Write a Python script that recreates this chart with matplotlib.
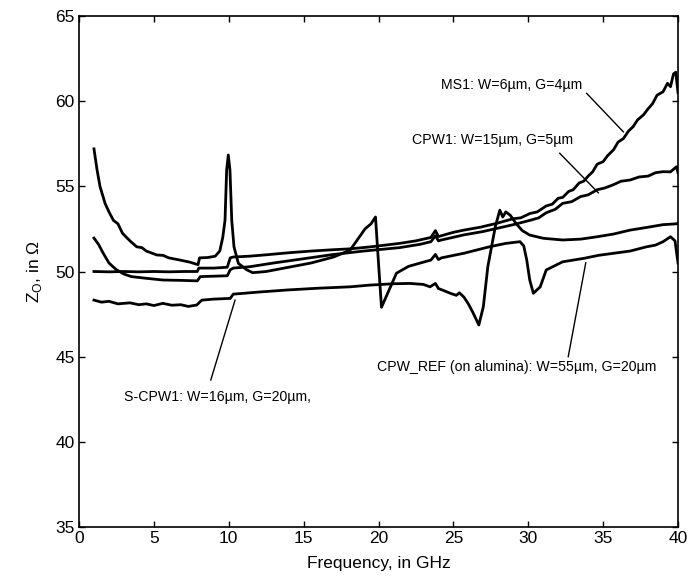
import matplotlib
matplotlib.use("Agg")
import matplotlib.pyplot as plt

plt.rcParams["font.family"] = ["Liberation Sans", "DejaVu Sans"]
plt.rcParams["mathtext.fontset"] = "custom"
plt.rcParams["mathtext.rm"] = "Liberation Sans"

# ---- data (frequency in GHz, Z0 in ohm) ----
ms1_f = [1.0, 2, 3, 4, 5, 6, 7, 7.9, 8.0, 9, 9.9, 10.1, 10.3, 11.4, 12.5, 14,
         15.5, 17, 18.1, 19.5, 21.4, 22.5, 23.5, 23.8, 24.0, 24.2, 25, 25.7,
         26.8, 27.9, 29, 29.5, 30.1, 30.6, 31.2, 31.6, 32.0, 32.3, 32.7, 33.0,
         33.4, 33.7, 34.0, 34.3, 34.6, 35.0, 35.3, 35.7, 36.0, 36.35, 36.7,
         37.0, 37.3, 37.7, 38.0, 38.3, 38.6, 39.0, 39.3, 39.5, 39.7, 39.85, 40.0]
ms1_z = [50.0, 49.98, 50.0, 49.98, 50.0, 49.98, 50.0, 50.0, 50.2, 50.2, 50.25,
         50.8, 50.85, 50.9, 50.98, 51.1, 51.2, 51.28, 51.33, 51.45, 51.65, 51.8,
         52.0, 52.4, 52.05, 52.1, 52.3, 52.43, 52.6, 52.83, 53.1, 53.15, 53.4,
         53.5, 53.85, 53.95, 54.3, 54.35, 54.7, 54.8, 55.2, 55.3, 55.6, 55.85,
         56.3, 56.45, 56.8, 57.15, 57.6, 57.8, 58.25, 58.5, 58.9, 59.2, 59.55,
         59.85, 60.35, 60.55, 61.05, 60.85, 61.6, 61.7, 60.5]

cpw1_f = [1.0, 1.3, 1.6, 2.0, 2.5, 3.0, 3.5, 4.5, 5.6, 6.8, 7.9, 8.1, 9.9, 10.1,
          10.3, 11.4, 13, 15, 17, 19, 21.4, 22.8, 23.5, 23.8, 24.0, 24.2, 25.7,
          27.0, 27.9, 29, 30.1, 30.7, 31.2, 31.8, 32.3, 32.9, 33.5, 34.0, 34.6,
          35.1, 35.7, 36.2, 36.8, 37.4, 38, 38.5, 39, 39.5, 39.9, 40]
cpw1_z = [51.96, 51.6, 51.1, 50.5, 50.1, 49.85, 49.7, 49.6, 49.5, 49.48, 49.45,
          49.7, 49.75, 50.1, 50.2, 50.28, 50.5, 50.75, 51.0, 51.2, 51.4, 51.6,
          51.75, 52.1, 51.8, 51.85, 52.15, 52.35, 52.53, 52.75, 53.0, 53.15,
          53.45, 53.65, 54.0, 54.1, 54.4, 54.5, 54.8, 54.9, 55.1, 55.3, 55.37,
          55.55, 55.6, 55.8, 55.86, 55.85, 56.15, 55.8]

ref_f = [1.0, 1.2, 1.4, 1.74, 2.0, 2.3, 2.6, 2.9, 3.4, 3.85, 4.2, 4.5, 5.2, 5.6,
         6.0, 6.75, 7.4, 7.95, 8.05, 8.6, 9.1, 9.4, 9.6, 9.75, 9.86, 9.97,
         10.08, 10.2, 10.35, 10.64, 11.2, 11.6, 12.5, 14, 15.5, 17, 18.1, 18.5,
         19.1, 19.5, 19.8, 20.0, 20.2, 20.7, 21.2, 22, 23, 23.5, 23.8, 24.0, 24.2,
         25.7, 27.4, 28.5, 29.45, 29.7, 29.9, 30.1, 30.34, 30.8, 31.2, 32.3,
         33.7, 34.7, 35.7, 36.8, 37.9, 38.5, 39.0, 39.5, 39.8, 40.0]
ref_z = [57.2, 56.0, 55.0, 54.0, 53.5, 53.0, 52.8, 52.25, 51.8, 51.45, 51.4,
         51.2, 50.97, 50.95, 50.8, 50.67, 50.55, 50.4, 50.8, 50.82, 50.9, 51.2,
         52.0, 53.0, 55.96, 56.84, 55.96, 53.0, 51.45, 50.48, 50.1, 49.93, 50.0,
         50.25, 50.5, 50.85, 51.25, 51.75, 52.5, 52.8, 53.2, 50.5, 47.9, 48.9,
         49.9, 50.3, 50.55, 50.67, 51.0, 50.7, 50.8, 51.07, 51.45, 51.65, 51.75,
         51.5, 50.67, 49.5, 48.72, 49.1, 50.09, 50.57, 50.77, 50.95, 51.07, 51.2,
         51.45, 51.55, 51.75, 52.04, 51.8, 50.5]

scpw_f = [1.0, 1.5, 2, 2.6, 3.4, 4.0, 4.5, 5.0, 5.6, 6.2, 6.8, 7.3, 7.86, 8.2, 9,
          10.1, 10.3, 12.1, 14, 16, 18.1, 19.4, 21, 22.1, 23.0, 23.44, 23.8,
          24.0, 24.3, 24.8, 25.2, 25.4, 25.7, 26.0, 26.3, 26.7, 27.0, 27.3, 27.8,
          28.1, 28.3, 28.5, 28.8, 29.2, 29.6, 30.1, 31, 32.3, 33.5, 34.6, 35.7,
          36.8, 38, 39, 39.9, 40]
scpw_z = [48.32, 48.2, 48.25, 48.1, 48.16, 48.05, 48.1, 48.0, 48.13, 48.02,
          48.05, 47.95, 48.03, 48.32, 48.38, 48.42, 48.67, 48.8, 48.92, 49.02,
          49.1, 49.2, 49.28, 49.3, 49.24, 49.1, 49.3, 49.0, 48.9, 48.72, 48.6,
          48.75, 48.5, 48.1, 47.6, 46.86, 47.93, 50.28, 52.63, 53.6, 53.2, 53.5,
          53.3, 52.8, 52.4, 52.14, 51.95, 51.85, 51.9, 52.04, 52.2, 52.43, 52.6,
          52.75, 52.8, 52.85]

fig = plt.figure(figsize=(7, 5.78), dpi=100)
ax = fig.add_axes([79 / 700, 51 / 578, 599 / 700, 511 / 578])

for f, z in [(ms1_f, ms1_z), (cpw1_f, cpw1_z), (ref_f, ref_z), (scpw_f, scpw_z)]:
    ax.plot(f, z, color="black", linewidth=2.0, solid_joinstyle="round")

ax.set_xlim(0, 40)
ax.set_ylim(35, 65)
ax.set_xticks(range(0, 41, 5))
ax.set_yticks(range(35, 66, 5))
ax.tick_params(direction="in", top=True, right=True, length=4, width=1,
               labelsize=12.5, pad=3)
for s in ax.spines.values():
    s.set_linewidth(1.2)

ax.set_xlabel("Frequency, in GHz", fontsize=12.5, labelpad=7)
ax.set_ylabel(r"Z$_\mathregular{O}$, in Ω", fontsize=12.5, labelpad=8)

# labels with pointer lines
kw = dict(fontsize=10.2, ha="center", va="center")
ax.text(28.88, 60.95, "MS1: W=6µm, G=4µm", **kw)
ax.plot([33.9, 36.35], [60.46, 58.2], color="black", linewidth=1.0)
ax.text(27.61, 57.72, "CPW1: W=15µm, G=5µm", **kw)
ax.plot([32.1, 34.68], [56.94, 54.62], color="black", linewidth=1.0)
ax.text(9.28, 42.65, "S-CPW1: W=16µm, G=20µm,", **kw)
ax.plot([8.8, 10.42], [43.63, 48.32], color="black", linewidth=1.0)
ax.text(29.2, 44.4, "CPW_REF (on alumina): W=55µm, G=20µm", **kw)
ax.plot([32.67, 33.84], [45.0, 50.51], color="black", linewidth=1.0)

fig.savefig("out.png", dpi=100)
